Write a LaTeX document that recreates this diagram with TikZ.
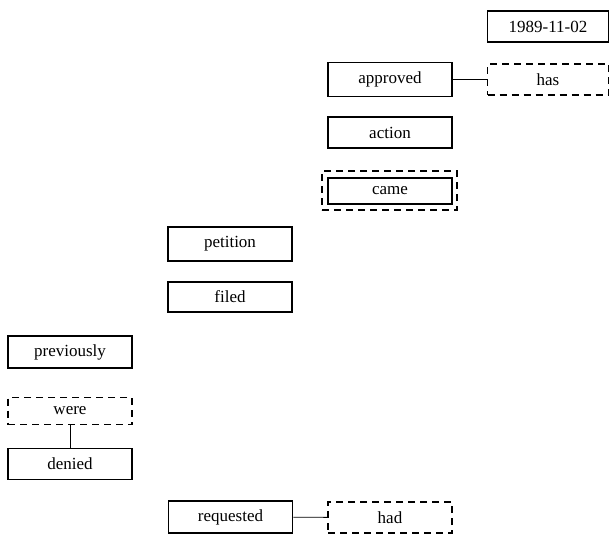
\documentclass[tikz,border=0pt]{standalone}
\usepackage{fontspec}
\setmainfont{Liberation Serif}
\begin{document}
\begin{tikzpicture}[x=1pt,y=-1pt,
  box/.style={draw,line width=1.5pt,minimum width=124pt,minimum height=31pt,inner sep=0pt,font=\fontsize{17}{20}\selectfont},
  dbox/.style={box,line width=1.5pt,dash pattern=on 7pt off 5pt},
  link/.style={line width=0.9pt}]
\useasboundingbox (0,0) rectangle (612,535);
\node[box,minimum width=121pt] (date) at (548,26.5) {1989-11-02};
\node[box,minimum height=34pt] (approved) at (390,79.5) {approved};
\node[dbox,minimum width=121pt] (has) at (548,79.5) {has};
\node[box] (action) at (390,132.5) {action};
\node[box,minimum height=26pt] (came) at (390,191) {came};
\node[draw,line width=1.5pt,dash pattern=on 7pt off 5pt,minimum width=135pt,minimum height=39pt,inner sep=0pt] (cameouter) at (389.5,190.5) {};
\node[box,minimum height=34pt] (petition) at (230,244) {petition};
\node[box,minimum height=30pt] (filed) at (230,297) {filed};
\node[box,minimum height=32pt] (previously) at (70,352) {previously};
\node[dbox,minimum height=27pt] (were) at (70,411) {were};
\node[box] (denied) at (70,464) {denied};
\node[box,minimum height=32pt] (requested) at (230.5,517) {requested};
\node[dbox] (had) at (390,517.5) {had};
\draw[link] (approved) -- (has);
\draw[link] (were) -- (denied);
\draw[link] (requested) -- (had);
\end{tikzpicture}
\end{document}
